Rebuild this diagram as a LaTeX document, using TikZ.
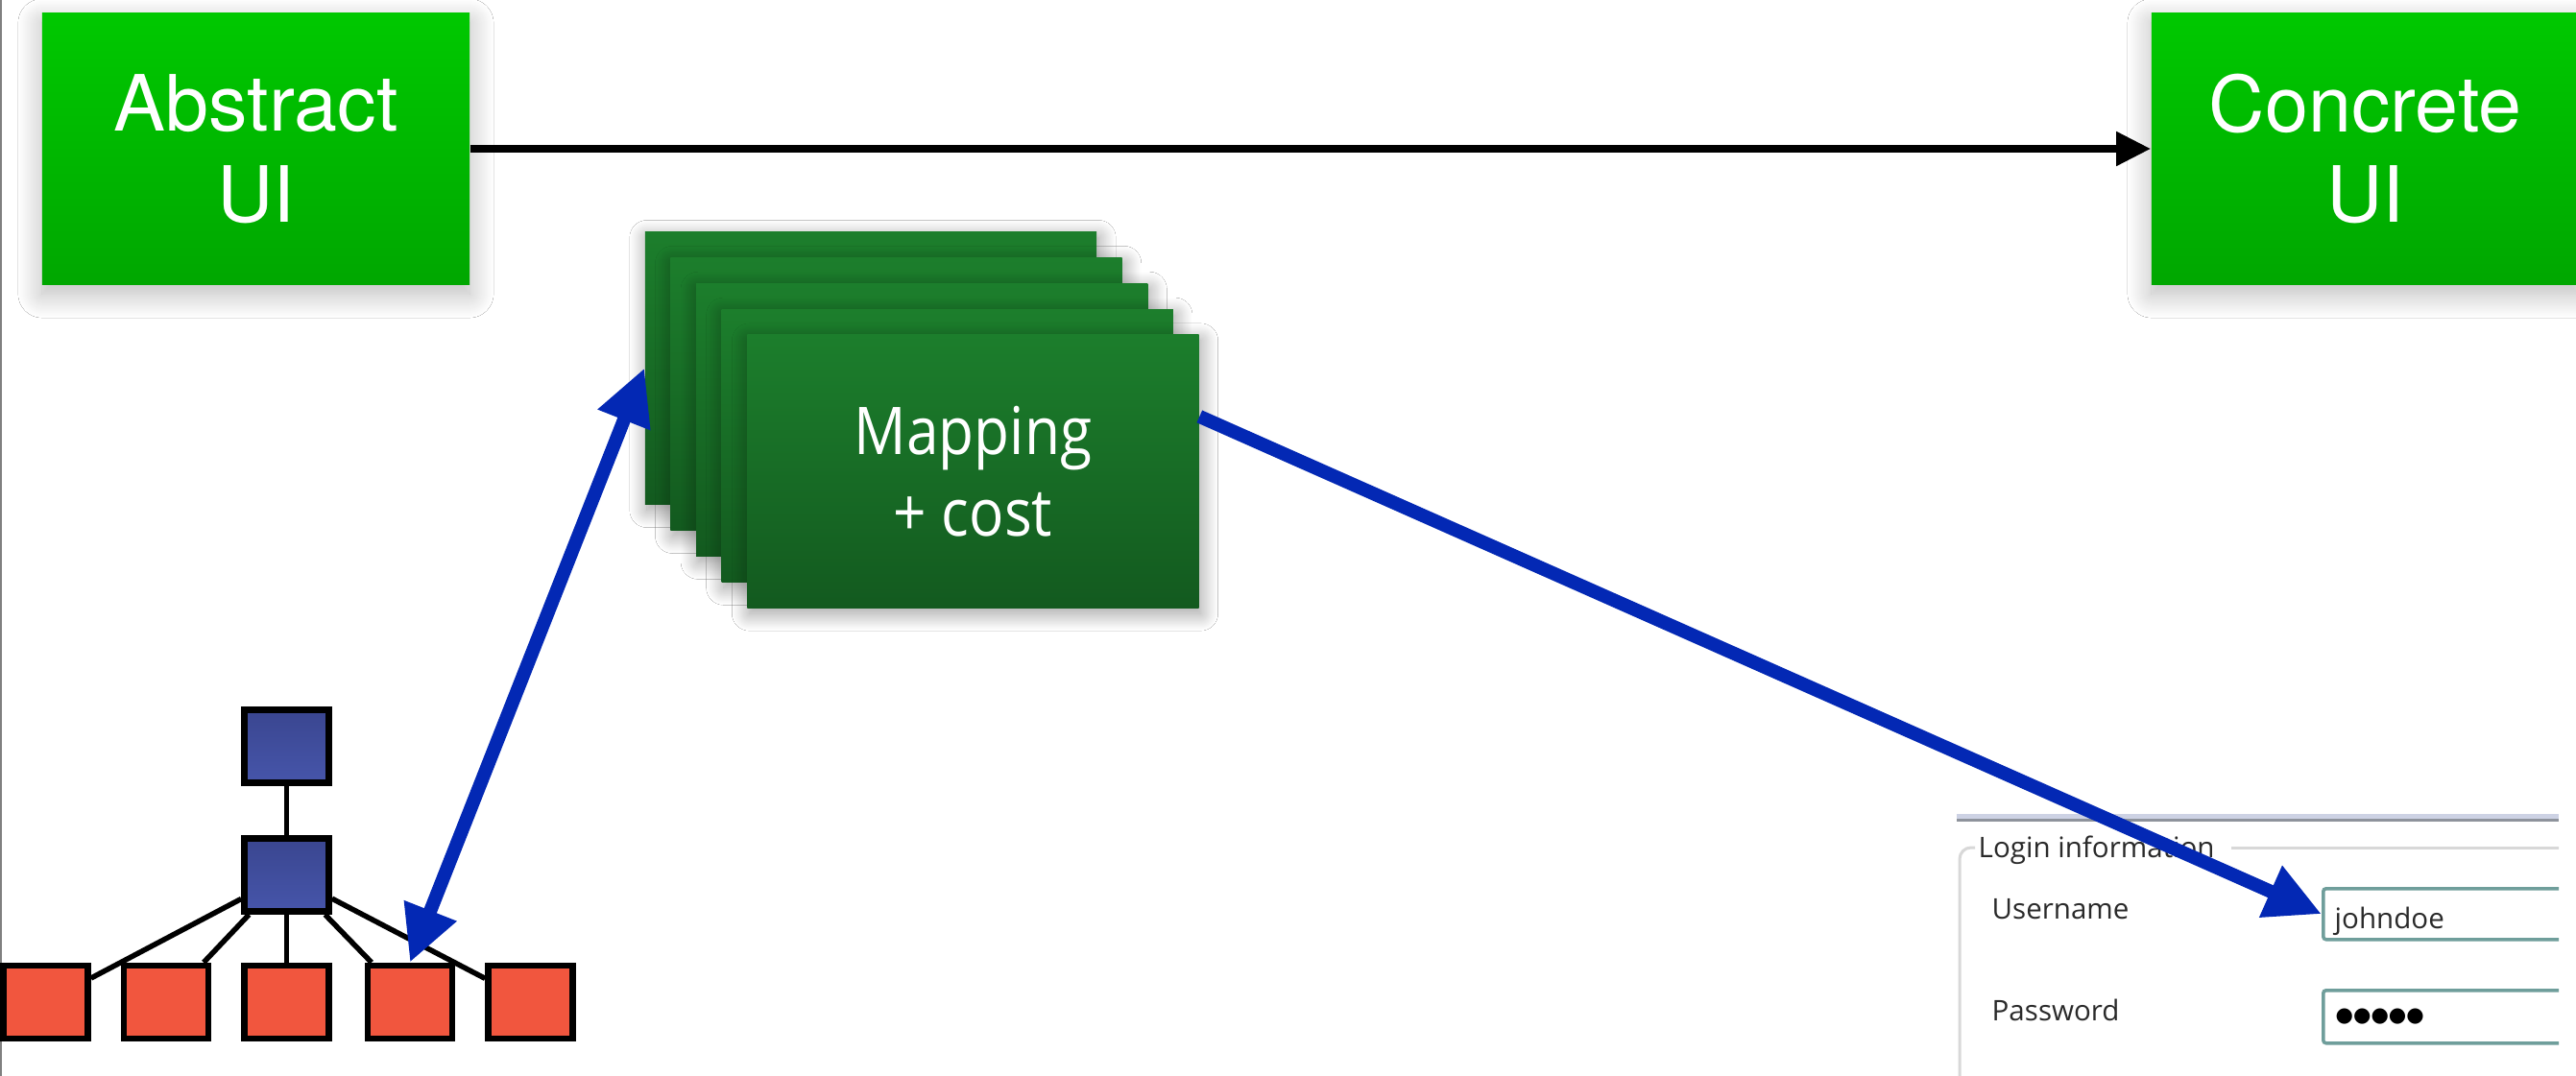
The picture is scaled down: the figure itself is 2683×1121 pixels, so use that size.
\documentclass[tikz,border=0pt]{standalone}
\usepackage{fontspec}
\usetikzlibrary{arrows.meta,shadows.blur,calc}
\newfontfamily\herosfont{TeX Gyre Heros}
\newfontfamily\mapfont[FakeStretch=0.88]{Open Sans}
\newfontfamily\uifont{Open Sans}
\newfontfamily\dotfont{DejaVu Sans}
\definecolor{gtop}{HTML}{00C800}
\definecolor{gbot}{HTML}{00A700}
\definecolor{dtop}{HTML}{1C7E2C}
\definecolor{dbot}{HTML}{135A1F}
\definecolor{btop}{HTML}{3A4690}
\definecolor{bbot}{HTML}{4655AA}
\definecolor{leafred}{HTML}{F1563E}
\definecolor{mapblue}{HTML}{0328B4}
\definecolor{fieldline}{HTML}{6F9E9B}
\definecolor{uitextc}{HTML}{2A2A2A}
\definecolor{groupc}{HTML}{D8D8D8}
\definecolor{topbarA}{HTML}{CDD2E4}
\definecolor{topbarB}{HTML}{8E939C}
\tikzset{
  uibox/.style={rectangle, inner sep=0pt, top color=gtop, bottom color=gbot,
    minimum width=4.45cm, minimum height=2.82cm, text=white, align=center,
    font=\herosfont\fontsize{23}{27}\selectfont,
    blur shadow={shadow xshift=0cm, shadow yshift=-0.1cm, shadow blur radius=0.25cm, shadow blur steps=25, shadow opacity=28}},
  card/.style={rectangle, inner sep=0pt, top color=dtop, bottom color=dbot,
    minimum width=4.70cm, minimum height=2.84cm, text=white, align=center,
    font=\mapfont\fontsize{19.5}{24.2}\selectfont,
    blur shadow={shadow xshift=0.02cm, shadow yshift=-0.06cm, shadow blur radius=0.18cm, shadow blur steps=25, shadow opacity=40}},
  treebox/.style={rectangle, draw=black, line width=0.065cm, minimum width=0.88cm, minimum height=0.76cm, inner sep=0pt},
  innerbox/.style={treebox, top color=btop, bottom color=bbot},
  leafbox/.style={treebox, fill=leafred},
  treeedge/.style={draw=black, line width=0.055cm},
  mainarrow/.style={draw=black, line width=0.08cm, -{Triangle[length=0.36cm,width=0.34cm]}},
  bluetip/.tip={Triangle[length=0.58cm,width=0.55cm]},
  maparrow/.style={draw=mapblue, line width=0.14cm},
  field/.style={rectangle, draw=fieldline, line width=0.035cm, fill=white, rounded corners=0.03cm,
    anchor=north west, minimum width=3.2cm, minimum height=0.53cm, inner sep=0pt},
  uitext/.style={inner sep=0pt, anchor=base west, text=uitextc, font=\uifont\fontsize{8.4}{10}\selectfont},
  groupline/.style={draw=groupc, line width=0.03cm},
}
\begin{document}
\begin{tikzpicture}[x=0.01cm,y=-0.01cm]
\fill[white] (0,0) rectangle (2683,1121);
\useasboundingbox (0,0) rectangle (2683,1121);
\draw[gray, line width=0.02cm] (1,0) -- (1,1121);

% top boxes
\node[uibox] (abstract) at (266.5,155) {Abstract\\UI};
\node[uibox] (concrete) at (2463.5,155) {Concrete\\UI};
\draw[mainarrow] (abstract.east) -- (concrete.west);

% stack of mapping cards
\node[card] (s1) at (907,383.5) {};
\node[card] (s2) at (933.6,410.4) {};
\node[card] (s3) at (960.2,437.3) {};
\node[card] (s4) at (986.8,464.2) {};
\node[card] (s5) at (1013.5,491) {Mapping\\+ cost};

% tree
\node[innerbox] (root) at (298.5,777.5) {};
\node[innerbox] (mid) at (298.5,911.5) {};
\node[leafbox] (leaf1) at (47.5,1044) {};
\node[leafbox] (leaf2) at (173,1044) {};
\node[leafbox] (leaf3) at (298.5,1044) {};
\node[leafbox] (leaf4) at (427,1044) {};
\node[leafbox] (leaf5) at (552.5,1044) {};
\draw[treeedge] (root) -- (mid);
\foreach \k in {1,...,5} {\draw[treeedge] (mid) -- (leaf\k);}

% screenshot
\begin{scope}
\clip (2030,840) rectangle (2665,1121);
\fill[topbarA] (2038,848) rectangle (2665,853);
\fill[topbarB] (2038,853) rectangle (2665,856);
\draw[groupline] (2324,883) -- (2670,883);
\draw[groupline, rounded corners=0.12cm] (2041,1130) -- (2041,883) -- (2057,883);
\node[uitext] (logintitle) at (2060,893) {Login information};
\node[uitext] (userlabel) at (2074,957) {Username};
\node[uitext] (passlabel) at (2074,1063) {Password};
\node[field] (field1) at (2418,924) {};
\node[field, minimum height=0.55cm] (field2) at (2418,1030) {};
\node[uitext] (userval) at (2431,967) {johndoe};
\node[uitext, font=\dotfont\fontsize{6}{8}\selectfont, text=black] (passval) at (2432,1064) {●●●●●};
\end{scope}

% mapping arrows
\draw[maparrow, arrows={bluetip-bluetip}] (leaf4.north) -- (s1.west);
\draw[maparrow, arrows={-bluetip}] ($(s5.north east)!0.3!(s5.south east)$) -- (field1.west);
\end{tikzpicture}
\end{document}
